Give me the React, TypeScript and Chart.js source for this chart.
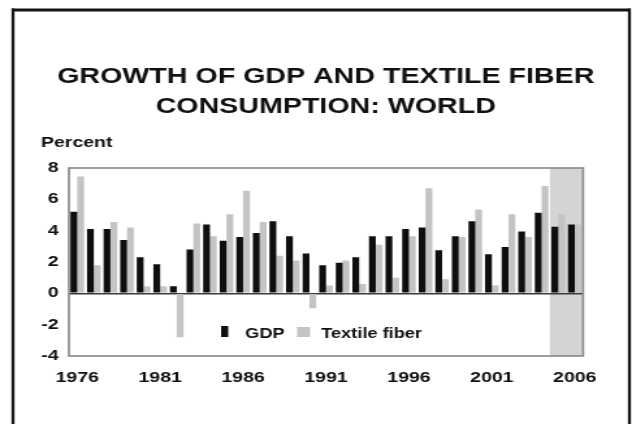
import React, { useEffect, useRef } from 'react';
import { Chart, registerables } from 'chart.js';

Chart.register(...registerables);

// ---- data ----
const years = [
  '1976', '1977', '1978', '1979', '1980', '1981', '1982', '1983', '1984', '1985',
  '1986', '1987', '1988', '1989', '1990', '1991', '1992', '1993', '1994', '1995',
  '1996', '1997', '1998', '1999', '2000', '2001', '2002', '2003', '2004', '2005', '2006',
];
const tickYears = ['1976', '1981', '1986', '1991', '1996', '2001', '2006'];
const gdp = [
  5.2, 4.1, 4.1, 3.4, 2.3, 1.85, 0.45, 2.8, 4.4, 3.35,
  3.6, 3.85, 4.6, 3.65, 2.55, 1.8, 1.95, 2.3, 3.65, 3.65,
  4.1, 4.2, 2.75, 3.65, 4.6, 2.5, 2.95, 3.95, 5.15, 4.25, 4.4,
];
const fiber = [
  7.45, 1.8, 4.55, 4.2, 0.45, 0.45, -2.8, 4.45, 3.65, 5.05,
  6.55, 4.55, 2.4, 2.1, -0.95, 0.5, 2.1, 0.6, 3.1, 1.0,
  3.65, 6.7, 0.9, 3.6, 5.35, 0.5, 5.05, 3.6, 6.85, 5.05, 4.4,
];
const seriesNames = ['GDP', 'Textile fiber'];
const shadedYears = ['2005', '2006'];
const titleLines = ['GROWTH OF GDP AND TEXTILE FIBER', 'CONSUMPTION: WORLD'];
const yAxisTitle = 'Percent';

// ---- style ----
const S = 632 / 486; // horizontal stretch of the reference picture
const FONT = "'Liberation Sans', Arial, Helvetica, sans-serif";
const GDP_COLOR = '#0e0e0e';
const FIBER_COLOR = '#c4c4c4';
const SHADE_COLOR = '#d4d4d4';

const decor = {
  id: 'decor',
  beforeDraw(chart: any) {
    const { ctx, chartArea, scales } = chart;
    ctx.save();
    ctx.fillStyle = '#ffffff';
    ctx.fillRect(0, 0, chart.width, chart.height);
    // outer frame
    ctx.strokeStyle = '#151515';
    ctx.lineWidth = 3;
    ctx.beginPath();
    ctx.moveTo(9, 10);
    ctx.lineTo(485, 10);
    ctx.stroke();
    ctx.lineWidth = 2.3;
    ctx.beginPath();
    ctx.moveTo(10, 8.5);
    ctx.lineTo(10, 430);
    ctx.moveTo(484, 8.5);
    ctx.lineTo(484, 430);
    ctx.stroke();
    // title
    ctx.fillStyle = '#111';
    ctx.font = `bold 22px ${FONT}`;
    ctx.textAlign = 'center';
    ctx.textBaseline = 'alphabetic';
    ctx.fillText(titleLines[0], 250.5, 83);
    ctx.fillText(titleLines[1], 250.5, 113);
    // y axis title
    ctx.font = `bold 15px ${FONT}`;
    ctx.textAlign = 'left';
    ctx.fillText(yAxisTitle, 31.5, 147);
    // shaded years
    const x = scales.x;
    const i0 = years.indexOf(shadedYears[0]);
    const left = (x.getPixelForValue(i0 - 1) + x.getPixelForValue(i0)) / 2;
    ctx.fillStyle = SHADE_COLOR;
    ctx.fillRect(left, chartArea.top, chartArea.right - left, chartArea.bottom - chartArea.top);
    ctx.restore();
  },
  afterDatasetsDraw(chart: any) {
    const { ctx, chartArea } = chart;
    ctx.save();
    // plot border
    ctx.strokeStyle = '#8c8c8c';
    ctx.lineWidth = 1.7;
    ctx.strokeRect(chartArea.left, chartArea.top, chartArea.right - chartArea.left, chartArea.bottom - chartArea.top);
    // legend
    ctx.font = `bold 14px ${FONT}`;
    ctx.textBaseline = 'alphabetic';
    ctx.textAlign = 'left';
    ctx.fillStyle = GDP_COLOR;
    ctx.fillRect(170, 326, 5.5, 11);
    ctx.fillStyle = '#111';
    ctx.fillText(seriesNames[0], 188.5, 338);
    ctx.fillStyle = FIBER_COLOR;
    ctx.fillRect(228.5, 327, 10, 10);
    ctx.fillStyle = '#111';
    ctx.fillText(seriesNames[1], 247, 338);
    ctx.restore();
  },
};

export default function App() {
  const ref = useRef<HTMLCanvasElement>(null);
  useEffect(() => {
    const tickFont = { family: FONT, weight: 'bold' as const, size: 15 };
    const chart = new Chart(ref.current as HTMLCanvasElement, {
      type: 'bar',
      data: {
        labels: years,
        datasets: [
          {
            label: seriesNames[0],
            data: gdp,
            backgroundColor: GDP_COLOR,
            barPercentage: 1,
            categoryPercentage: 0.82,
          },
          {
            label: seriesNames[1],
            data: fiber,
            backgroundColor: FIBER_COLOR,
            barPercentage: 1,
            categoryPercentage: 0.82,
          },
        ],
      },
      options: {
        responsive: true,
        maintainAspectRatio: false,
        animation: false,
        layout: { padding: { top: 168, left: 0, right: 37.6, bottom: 0 } },
        plugins: {
          legend: { display: false },
          title: { display: false },
          tooltip: { enabled: false },
        },
        scales: {
          x: {
            grid: { display: false },
            border: { display: false },
            ticks: {
              autoSkip: false,
              maxRotation: 0,
              padding: 5,
              color: '#111',
              font: tickFont,
              callback: (_v: any, i: number) => (tickYears.includes(years[i]) ? years[i] : ''),
            },
            afterFit: (s: any) => {
              s.height = 68;
            },
          },
          y: {
            min: -4,
            max: 8,
            ticks: { stepSize: 2, padding: 8, color: '#111', font: tickFont },
            grid: {
              drawTicks: false,
              color: (c: any) => (c.tick && c.tick.value === 0 ? '#3a3a3a' : 'rgba(0,0,0,0)'),
              lineWidth: 1.5,
            },
            border: { display: false },
            afterFit: (s: any) => {
              s.width = 53;
            },
          },
        },
      },
      plugins: [decor],
    });
    return () => chart.destroy();
  }, []);

  return (
    <div
      style={{
        position: 'absolute',
        left: 0,
        top: 0,
        width: 486,
        height: 424,
        transform: `scaleX(${S})`,
        transformOrigin: '0 0',
      }}
    >
      <canvas ref={ref} />
    </div>
  );
}
